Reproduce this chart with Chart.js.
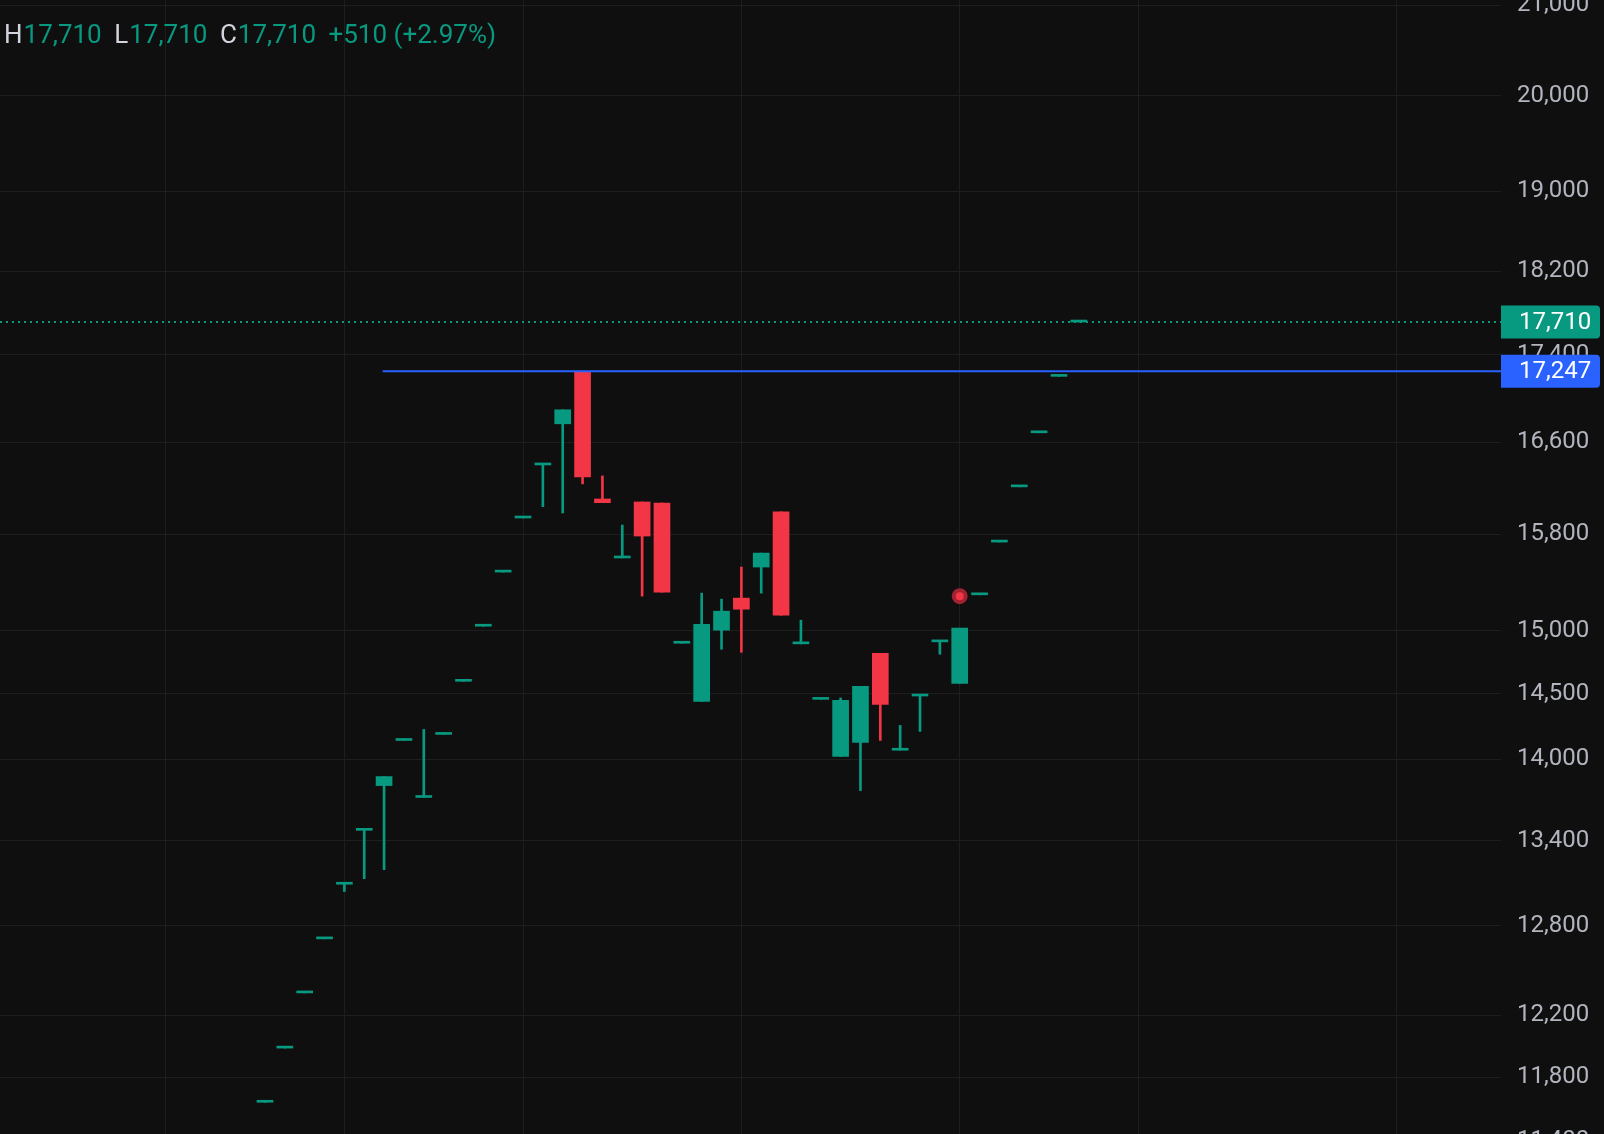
<!DOCTYPE html>
<html>
<head>
<meta charset="utf-8">
<script src="https://cdn.jsdelivr.net/npm/chart.js@4.4.1/dist/chart.umd.min.js"></script>
<style>
  html, body { margin: 0; padding: 0; background: #0f0f0f; overflow: hidden; }
  #wrap { position: relative; width: 1604px; height: 1134px; }
</style>
</head>
<body>
<div id="wrap"><canvas id="c"></canvas></div>
<script>
// ---- data ----
const opens  = [11642, 11986, 12347, 12711, 13090, 13475, 13803, 14142, 13715, 14188,
                14599, 15038, 15482, 15939, 16400, 16767, 17240, 16103, 15600, 16077,
                16068, 14901, 14442, 15006, 15267, 15524, 15991, 14896, 14458, 14021,
                14127, 14821, 14068, 14484, 14912, 14583, 15294, 15734, 16208, 16686,
                17200, 17710];
const highs  = [11642, 11986, 12347, 12711, 13100, 13485, 13870, 14142, 14226, 14188,
                14599, 15038, 15482, 15939, 16412, 16894, 17247, 16304, 15879, 16077,
                16068, 14901, 15308, 15258, 15524, 15641, 15991, 15087, 14458, 14469,
                14560, 14821, 14257, 14494, 14922, 15022, 15294, 15734, 16208, 16686,
                17200, 17710];
const lows   = [11642, 11986, 12347, 12711, 13039, 13129, 13193, 14142, 13715, 14188,
                14599, 15038, 15482, 15939, 16036, 15982, 16234, 16071, 15600, 15283,
                15316, 14901, 14442, 14853, 14829, 15308, 15127, 14896, 14458, 14021,
                13766, 14142, 14068, 14211, 14813, 14583, 15294, 15734, 16208, 16686,
                17200, 17710];
const closes = [11642, 11986, 12347, 12711, 13100, 13485, 13870, 14142, 13725, 14188,
                14599, 15038, 15482, 15939, 16412, 16894, 16295, 16071, 15612, 15785,
                15316, 14901, 15054, 15160, 15176, 15641, 15127, 14905, 14458, 14450,
                14560, 14419, 14078, 14494, 14922, 15022, 15294, 15734, 16208, 16686,
                17200, 17710];
const yTicks = [11400, 11800, 12200, 12800, 13400, 14000, 14500, 15000, 15800,
                16600, 17400, 18200, 19000, 20000, 21000];
const xGridTicks = [-5, 4, 13, 24, 35, 44, 57];
const lastPrice = 17710;
const levelPrice = 17247;
const levelStart = 5.93;
const eventIndex = 35;
const eventPrice = 15283;
const legendLabels = ['H', 'L', 'C'];
const legendValues = ['17,710', '17,710', '17,710'];
const legendChange = '+510 (+2.97%)';

// ---- view / style ----
const X_MIN = -13.35, X_MAX = 62.27;
const Y_MIN = 11445, Y_MAX = 21058;
const GREEN = '#089981', RED = '#f23645', BLUE = '#2962ff';
const GRID = '#1e1e1e';
const AXIS_TEXT = '#b2b5be';

const idx = opens.map((_, i) => i);
const up = i => closes[i] >= opens[i];

const overlay = {
  id: 'overlay',
  beforeDraw(chart) {
    const ctx = chart.ctx;
    ctx.save();
    ctx.fillStyle = '#0f0f0f';
    ctx.fillRect(0, 0, chart.width, chart.height);
    ctx.restore();
  },
  afterDraw(chart) {
    const ctx = chart.ctx, ys = chart.scales.y, area = chart.chartArea;
    ctx.save();
    ctx.font = '24px Roboto';
    ctx.textBaseline = 'middle';
    ctx.textAlign = 'left';
    [[lastPrice, GREEN], [levelPrice, BLUE]].forEach(([v, col]) => {
      const py = ys.getPixelForValue(v);
      const x0 = area.right, x1 = chart.width - 4, h = 33;
      ctx.fillStyle = col;
      ctx.beginPath();
      ctx.roundRect(x0, py - h / 2, x1 - x0, h, [0, 4, 4, 0]);
      ctx.fill();
      ctx.fillStyle = '#ffffff';
      ctx.fillText(v.toLocaleString('en-US'), x0 + 18, py + 1);
    });
    // legend
    ctx.font = '26px Roboto';
    let x = 4; const ly = 36;
    legendLabels.forEach((lab, i) => {
      ctx.fillStyle = '#d1d4dc';
      ctx.fillText(lab, x, ly);
      x += ctx.measureText(lab).width + 1;
      ctx.fillStyle = GREEN;
      ctx.fillText(legendValues[i], x, ly);
      x += ctx.measureText(legendValues[i]).width + 12.5;
    });
    ctx.fillStyle = GREEN;
    ctx.fillText(legendChange, x, ly);
    ctx.restore();
  }
};

new Chart(document.getElementById('c'), {
  type: 'bar',
  data: {
    datasets: [
      {
        label: 'wicks',
        order: 3,
        data: idx.map(i => ({ x: i, y: [lows[i], highs[i]] })),
        backgroundColor: c => up(c.dataIndex) ? GREEN : RED,
        barThickness: 2,
        grouped: false,
        borderWidth: 0
      },
      {
        label: 'bodies',
        order: 2,
        data: idx.map(i => ({ x: i, y: [opens[i], closes[i]] })),
        backgroundColor: c => up(c.dataIndex) ? GREEN : RED,
        barThickness: 16,
        minBarLength: 2,
        grouped: false,
        borderWidth: 0
      },
      {
        type: 'line',
        label: 'last',
        order: 1,
        data: [{ x: X_MIN, y: lastPrice }, { x: X_MAX, y: lastPrice }],
        borderColor: GREEN,
        borderWidth: 2,
        borderDash: [2, 4],
        pointRadius: 0
      },
      {
        type: 'line',
        label: 'level',
        order: 1,
        data: [{ x: levelStart, y: levelPrice }, { x: X_MAX, y: levelPrice }],
        borderColor: BLUE,
        borderWidth: 2,
        pointRadius: 0
      },
      {
        type: 'scatter',
        label: 'event',
        order: 0,
        data: [{ x: eventIndex, y: eventPrice }],
        pointRadius: 6,
        pointBackgroundColor: RED,
        pointBorderColor: '#a12330',
        pointBorderWidth: 4
      }
    ]
  },
  options: {
    responsive: true,
    maintainAspectRatio: false,
    animation: false,
    layout: { padding: 0, autoPadding: false },
    plugins: { legend: { display: false }, tooltip: { enabled: false } },
    scales: {
      x: {
        type: 'linear',
        min: X_MIN,
        max: X_MAX,
        offset: false,
        grid: { color: GRID, lineWidth: 1, drawTicks: false, offset: false },
        border: { display: false },
        ticks: { display: false },
        afterBuildTicks: s => { s.ticks = xGridTicks.map(v => ({ value: v })); },
        afterFit: s => { s.height = 0; s.paddingLeft = 0; s.paddingRight = 0; }
      },
      y: {
        type: 'logarithmic',
        position: 'right',
        min: Y_MIN,
        max: Y_MAX,
        grid: { color: GRID, lineWidth: 1, drawTicks: false },
        border: { display: false },
        ticks: {
          color: AXIS_TEXT,
          font: { family: 'Roboto', size: 24 },
          padding: 16,
          autoSkip: false,
          crossAlign: 'near',
          callback: v => Number(v).toLocaleString('en-US')
        },
        afterBuildTicks: s => { s.ticks = yTicks.map(v => ({ value: v })); },
        afterFit: s => { s.width = 103; s.paddingTop = 0; s.paddingBottom = 0; }
      }
    }
  },
  plugins: [overlay]
});
</script>
</body>
</html>
